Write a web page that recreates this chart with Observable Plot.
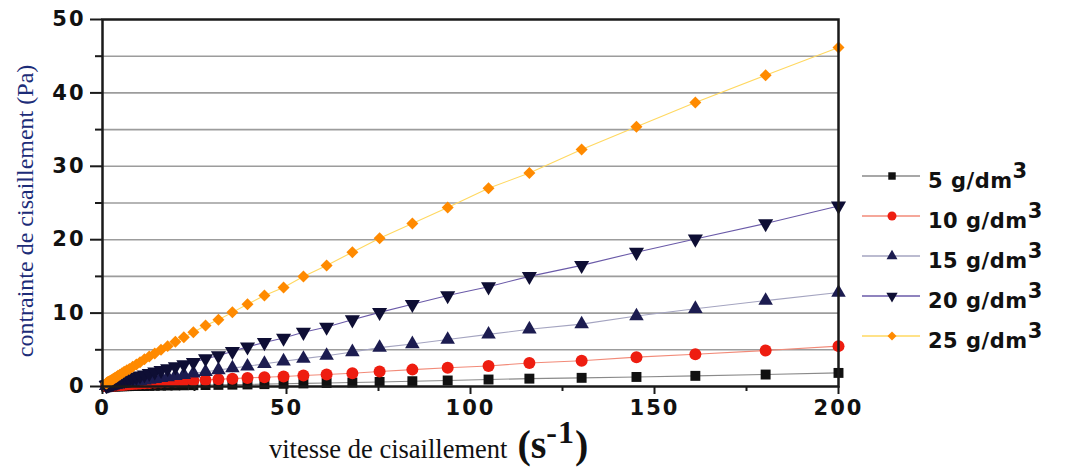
<!DOCTYPE html>
<html>
<head>
<meta charset="utf-8">
<script src="https://cdn.jsdelivr.net/npm/d3@7"></script>
<script src="https://cdn.jsdelivr.net/npm/@observablehq/plot@0.6"></script>
<style>
  body { margin: 0; background: #fff; }
  #chart { position: relative; width: 1069px; height: 468px; overflow: hidden; background: #fff; }
  #chart svg.plot text { font-family: "DejaVu Sans", sans-serif; font-weight: bold; font-size: 21px; letter-spacing: 2px; fill: #111; }
  .ylabel {
    position: absolute; left: 25px; top: 211px; transform: translate(-50%, -50%) rotate(-90deg);
    white-space: nowrap; font-family: "Liberation Serif", serif; font-size: 24px; color: #1c2c78;
  }
  .xlabel {
    position: absolute; left: 269px; top: 414px; white-space: nowrap;
    font-family: "Liberation Serif", serif; color: #111;
  }
  .xlabel .main { font-size: 26.5px; }
  .xlabel .unit { font-size: 40px; font-weight: bold; margin-left: 10px; }
  .xlabel sup { font-size: 32px; vertical-align: 15px; letter-spacing: 1px; }
  .legend { position: absolute; left: 860px; top: 156px; }
  .legend .item { display: flex; align-items: center; height: 40px; }
  .legend .txt { font-family: "DejaVu Sans", sans-serif; font-weight: bold; font-size: 21px; color: #111; margin-left: 6px; letter-spacing: 0.5px; }
  .legend sup { font-size: 21px; vertical-align: 10px; }
</style>
</head>
<body>
<div id="chart"></div>
<script>
// Shear rate (s^-1) at which each series was measured
const shearRate = [1.0, 1.1, 1.2, 1.4, 1.5, 1.7, 1.9, 2.2, 2.4, 2.7, 3.0, 3.4, 3.8, 4.2, 4.7, 5.3, 5.9, 6.6, 7.3, 8.2,
  9.2, 10.2, 11.4, 12.7, 14.2, 15.9, 17.7, 19.8, 22.1, 24.7, 28.0, 31.5, 35.3, 39.4, 44.0, 49.2, 54.6, 60.9, 67.9, 75.3,
  84.2, 93.8, 104.9, 116.0, 130.2, 145.1, 161.1, 180.2, 200];

// Shear stress (Pa) for each concentration
const stress5 = [0.007, 0.008, 0.009, 0.01, 0.011, 0.012, 0.014, 0.016, 0.018, 0.02, 0.022, 0.025, 0.03, 0.03, 0.035, 0.04,
  0.045, 0.05, 0.055, 0.06, 0.07, 0.08, 0.085, 0.09, 0.1, 0.12, 0.13, 0.14, 0.16, 0.18, 0.2, 0.22, 0.25, 0.28, 0.32, 0.37,
  0.42, 0.48, 0.55, 0.62, 0.72, 0.82, 0.95, 1.07, 1.18, 1.3, 1.45, 1.63, 1.85];
const stress10 = [0.05, 0.055, 0.06, 0.065, 0.07, 0.08, 0.09, 0.1, 0.11, 0.12, 0.13, 0.15, 0.16, 0.18, 0.2, 0.22, 0.25,
  0.27, 0.3, 0.33, 0.37, 0.4, 0.44, 0.48, 0.53, 0.58, 0.63, 0.69, 0.75, 0.82, 0.9, 0.98, 1.07, 1.17, 1.27, 1.36, 1.5,
  1.63, 1.8, 2.05, 2.3, 2.55, 2.8, 3.2, 3.5, 4.0, 4.4, 4.9, 5.5];
const stress15 = [0.08, 0.09, 0.1, 0.12, 0.13, 0.14, 0.16, 0.18, 0.2, 0.22, 0.24, 0.27, 0.3, 0.33, 0.37, 0.41, 0.45, 0.5,
  0.56, 0.63, 0.7, 0.77, 0.85, 0.95, 1.06, 1.18, 1.3, 1.45, 1.6, 1.8, 2.0, 2.25, 2.5, 2.75, 3.1, 3.45, 3.8, 4.2, 4.7,
  5.3, 5.8, 6.4, 7.1, 7.8, 8.5, 9.6, 10.6, 11.7, 12.8];
const stress20 = [0.16, 0.18, 0.2, 0.22, 0.24, 0.27, 0.3, 0.33, 0.36, 0.4, 0.45, 0.5, 0.56, 0.62, 0.7, 0.78, 0.85, 0.95,
  1.05, 1.15, 1.3, 1.45, 1.6, 1.8, 2.0, 2.2, 2.45, 2.7, 3.0, 3.3, 3.8, 4.2, 4.8, 5.4, 6.0, 6.6, 7.4, 8.1, 9.1, 10.1,
  11.2, 12.4, 13.6, 15.0, 16.5, 18.3, 20.1, 22.2, 24.6];
const stress25 = [0.42, 0.45, 0.5, 0.55, 0.6, 0.65, 0.7, 0.8, 0.85, 0.95, 1.05, 1.2, 1.3, 1.45, 1.6, 1.8, 2.0, 2.2, 2.4,
  2.7, 3.0, 3.3, 3.7, 4.1, 4.5, 5.0, 5.5, 6.1, 6.7, 7.4, 8.3, 9.1, 10.1, 11.2, 12.4, 13.5, 15.0, 16.5, 18.3, 20.2, 22.2,
  24.4, 27.0, 29.1, 32.3, 35.4, 38.7, 42.4, 46.2];

// Series names (concentration in g/dm3) and styling
const concentrations = ["5", "10", "15", "20", "25"];
const seriesStress = [stress5, stress10, stress15, stress20, stress25];
const markerFill = ["#111111", "#ee1d10", "#1c1c50", "#0e0e34", "#ff8a00"];
const lineColor = ["#8a8a8a", "#f28a78", "#a4a4c0", "#6a5aa8", "#ffd860"];
const markerSymbol = ["square", "circle", "triangle", "triangle", "diamond2"];
const markerRotate = [0, 0, 0, 180, 0];
const markerRadius = [5.6, 6.0, 5.4, 5.6, 5.4];

// Axis ticks
const xTicks = [0, 50, 100, 150, 200];
const xMinorTicks = [25, 75, 125, 175];
const yTicks = [0, 10, 20, 30, 40, 50];
const yMinorTicks = [5, 15, 25, 35, 45];
const yGrid = [5, 10, 15, 20, 25, 30, 35, 40, 45];

const series = concentrations.map((c, i) => ({
  name: c,
  rows: shearRate.map((x, j) => ({ rate: x, stress: seriesStress[i][j] }))
}));

const marks = [
  Plot.ruleY(yGrid, { stroke: "#9c9c9c", strokeWidth: 1.6 }),
  ...series.map((s, i) => Plot.line(s.rows, { x: "rate", y: "stress", stroke: lineColor[i], strokeWidth: 1.1 })),
  ...series.map((s, i) => Plot.dot(s.rows, {
    x: "rate", y: "stress", symbol: markerSymbol[i], fill: markerFill[i], r: markerRadius[i], rotate: markerRotate[i]
  })),
  Plot.frame({ stroke: "#1a1a1a", strokeWidth: 2.5 }),
  Plot.axisY(yTicks, { tickSize: 12, tickPadding: 5, stroke: "#1a1a1a", strokeWidth: 2, label: null }),
  Plot.axisY(yMinorTicks, { tickSize: 7, tickFormat: () => "", stroke: "#1a1a1a", strokeWidth: 2, label: null }),
  Plot.axisX(xTicks, { tickSize: 8, tickPadding: 6, stroke: "#1a1a1a", strokeWidth: 2, label: null }),
  Plot.axisX(xMinorTicks, { tickSize: 5, tickFormat: () => "", stroke: "#1a1a1a", strokeWidth: 2, label: null })
];

const chart = Plot.plot({
  width: 1069,
  height: 468,
  marginLeft: 102,
  marginRight: 231,
  marginTop: 19,
  marginBottom: 82,
  x: { domain: [0, 200] },
  y: { domain: [0, 50] },
  marks
});
chart.classList.add("plot");

const root = document.getElementById("chart");
root.appendChild(chart);

// Axis titles
const yl = document.createElement("div");
yl.className = "ylabel";
yl.textContent = "contrainte de cisaillement (Pa)";
root.appendChild(yl);

const xl = document.createElement("div");
xl.className = "xlabel";
xl.innerHTML = '<span class="main">vitesse de cisaillement</span><span class="unit">(s<sup>-1</sup>)</span>';
root.appendChild(xl);

// Legend: line sample with marker, then concentration label
const legend = d3.select(root).append("div").attr("class", "legend");
const symbolType = { square: d3.symbolSquare, circle: d3.symbolCircle, triangle: d3.symbolTriangle, diamond2: d3.symbolDiamond2 };
concentrations.forEach((c, i) => {
  const item = legend.append("div").attr("class", "item");
  const svg = item.append("svg").attr("width", 62).attr("height", 20);
  svg.append("line").attr("x1", 2).attr("x2", 60).attr("y1", 10).attr("y2", 10)
    .attr("stroke", lineColor[i]).attr("stroke-width", 1.3);
  const r = markerRadius[i] * 0.75;
  svg.append("path")
    .attr("d", d3.symbol(symbolType[markerSymbol[i]], Math.PI * r * r)())
    .attr("transform", `translate(32,10) rotate(${markerRotate[i]})`)
    .attr("fill", markerFill[i]);
  item.append("span").attr("class", "txt").html(`${c} g/dm<sup>3</sup>`);
});
</script>
</body>
</html>
